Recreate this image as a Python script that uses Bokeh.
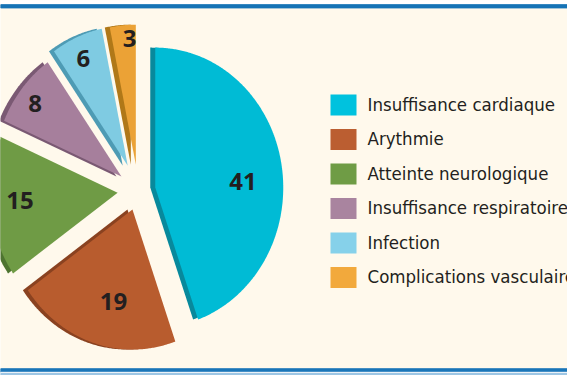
import math
from bokeh.plotting import figure
from bokeh.models import Range1d, ColumnDataSource
from bokeh.core.properties import value
from bokeh.embed import file_html
from bokeh.resources import INLINE

# ---- data ----
categories = ["Insuffisance cardiaque", "Arythmie", "Atteinte neurologique",
              "Insuffisance respiratoire", "Infection", "Complications vasculaires"]
counts = [41, 19, 15, 8, 6, 3]

# ---- style ----
colors = ["#00BBD5", "#B85C2E", "#6F9B45", "#A67F9C", "#7FCBE2", "#EBA236"]
dark_colors = ["#08899C", "#8A4220", "#4E7430", "#7A5973", "#4E9BB4", "#B07818"]
legend_colors = ["#00C2DE", "#BB5E31", "#6F9C45", "#A9849F", "#86D1EA", "#F2A93C"]
explode = [17, 20, 21, 22, 27, 26]
label_r = [88, 94, 98, 113, 116, 126]
label_dang = [6, -6, 1, 1, 1, 3]
BG = "#FFF9EC"
TEXT = "#231F20"
LEG_FONT = "DejaVu Sans Condensed, Liberation Sans Narrow, Roboto Condensed, Noto Sans"

W, H = 567, 375
cx, cy = 138, 375 - 190
RX, RY = 128, 140
SHADOW_DX = -5

p = figure(width=W, height=H, output_backend="svg", toolbar_location=None,
           x_range=Range1d(0, W), y_range=Range1d(375 - H, 375),
           min_border=0, outline_line_color=None)
p.axis.visible = False
p.grid.visible = False
p.background_fill_color = BG
p.border_fill_color = BG

total = sum(counts)
acc = 0.0
xs, ys, sxs, lx, ly = [], [], [], [], []
for i, c in enumerate(counts):
    t1 = acc / total * 360.0
    t2 = (acc + c) / total * 360.0
    acc += c
    mid = math.radians((t1 + t2) / 2)
    ox = cx + explode[i] * math.sin(mid)
    oy = cy + explode[i] * math.cos(mid)
    n = max(8, int((t2 - t1) * 2))
    px, py = [ox], [oy]
    for k in range(n + 1):
        t = math.radians(t1 + (t2 - t1) * k / n)
        px.append(ox + RX * math.sin(t))
        py.append(oy + RY * math.cos(t))
    xs.append(px)
    ys.append(py)
    sxs.append([v + SHADOW_DX for v in px])
    la = mid + math.radians(label_dang[i])
    lx.append(ox + label_r[i] * math.sin(la))
    ly.append(oy + label_r[i] * math.cos(la))

p.patches(xs=sxs, ys=ys, fill_color=dark_colors, line_color=None)
p.patches(xs=xs, ys=ys, fill_color=colors, line_color=None)

p.text(x=lx, y=ly, text=[str(c) for c in counts], text_align="center",
       text_baseline="middle", text_font=value("Open Sans"), text_font_size="24px",
       text_font_style="bold", text_color=TEXT)

# legend
leg_y = [375 - (104.5 + 34.5 * i) for i in range(len(categories))]
p.rect(x=[343] * len(categories), y=leg_y, width=26, height=21,
       fill_color=legend_colors, line_color=None)
p.text(x=[367] * len(categories), y=[v + 1 for v in leg_y], text=categories,
       text_align="left", text_baseline="middle",
       text_font=value(LEG_FONT), text_font_size="18.5px",
       text_color=TEXT)

# border lines
p.hbar(y=[375 - 2], height=4.5, left=0, right=600, color="#FFFFFF")
p.hbar(y=[375 - 5.8], height=3.2, left=0, right=600, color="#1673B5")
p.hbar(y=[375 - 370], height=3.5, left=0, right=600, color="#1A76B9")
p.hbar(y=[375 - 372.4], height=1.2, left=0, right=600, color="#F4F8FB")
p.hbar(y=[375 - 374], height=2, left=0, right=600, color="#9EC6E4")

open("out.html", "w").write(file_html(p, INLINE))
